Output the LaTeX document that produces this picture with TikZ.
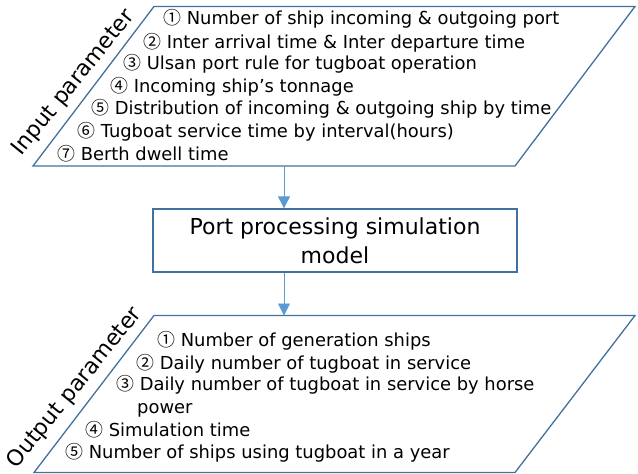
\documentclass[tikz,border=0pt]{standalone}
\usepackage{fontspec}
\setmainfont{DejaVu Sans}
\newfontfamily\circfont{Noto Sans CJK KR}
\newcommand{\cn}[1]{{\circfont #1}}
\usetikzlibrary{arrows.meta}
\definecolor{edgeblue}{HTML}{41719C}
\definecolor{arrowblue}{HTML}{5B9BD5}
\begin{document}
\begin{tikzpicture}[x=1pt,y=-1pt,
  frame/.style={draw=edgeblue, line width=1.3pt, line join=miter},
  item/.style={anchor=west, inner sep=0pt, font=\fontsize{17.9}{20}\selectfont, text height=13pt, text depth=0pt},
  side/.style={font=\fontsize{22}{24}\selectfont, inner sep=0pt, rotate=51},
  flow/.style={draw=arrowblue, line width=0.9pt, -{Triangle[length=12pt,width=12pt]}}]
\useasboundingbox (0,0) rectangle (638,474);

% input parallelogram
\coordinate (iTL) at (154,6.5);
\coordinate (iTR) at (635,6.5);
\coordinate (iBR) at (515,166);
\coordinate (iBL) at (33,166);
\draw[frame] (iTL) -- (iTR) -- (iBR) -- (iBL) -- cycle;

% output parallelogram
\coordinate (oTL) at (154,315.5);
\coordinate (oTR) at (635,315.5);
\coordinate (oBR) at (515,472.5);
\coordinate (oBL) at (34,472.5);
\draw[frame] (oTL) -- (oTR) -- (oBR) -- (oBL) -- cycle;

% model box
\node[frame, minimum width=364pt, minimum height=63pt, inner sep=0pt,
      align=center, font=\fontsize{22}{29}\selectfont] (box) at (335,240.5)
      {Port processing simulation\\model};

% connectors
\coordinate (inOut) at (284,166);
\coordinate (outIn) at (284,315.5);
\draw[flow] (inOut) -- (inOut |- box.north);
\draw[flow] (box.south -| outIn) -- (outIn);

% side labels
\node[side] (lin) at (74,83) {Input parameter};
\node[side] (lout) at (75,388) {Output parameter};

% input items
\node[item] (i1) at (163,18) {\cn{①} Number of ship incoming \& outgoing port};
\node[item] (i2) at (143,41.5) {\cn{②} Inter arrival time \& Inter departure time};
\node[item] (i3) at (123,62.5) {\cn{③} Ulsan port rule for tugboat operation};
\node[item] (i4) at (110,86) {\cn{④} Incoming ship’s tonnage};
\node[item] (i5) at (91,108) {\cn{⑤} Distribution of incoming \& outgoing ship by time};
\node[item] (i6) at (77,131) {\cn{⑥} Tugboat service time by interval(hours)};
\node[item] (i7) at (57,153.5) {\cn{⑦} Berth dwell time};

% output items
\node[item] (o1) at (157,340) {\cn{①} Number of generation ships};
\node[item] (o2) at (136,363) {\cn{②} Daily number of tugboat in service};
\node[item] (o3) at (116,384) {\cn{③} Daily number of tugboat in service by horse};
\node[item] (o3b) at (137,407) {power};
\node[item] (o4) at (85,430) {\cn{④} Simulation time};
\node[item] (o5) at (65,452) {\cn{⑤} Number of ships using tugboat in a year};
\end{tikzpicture}
\end{document}
